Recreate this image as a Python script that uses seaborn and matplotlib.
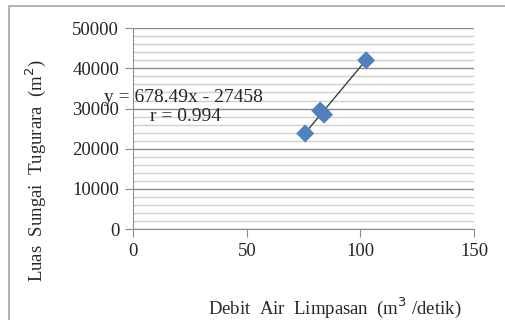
import numpy as np
import pandas as pd
import matplotlib.pyplot as plt
from matplotlib.patches import Rectangle
from matplotlib.ticker import MultipleLocator
import seaborn as sns

# Data
debit = [75.7, 82.3, 84.0, 102.5]
luas = [23800, 29500, 28500, 42000]
slope = 678.49
intercept = -27458
r_value = 0.994

df = pd.DataFrame({"debit": debit, "luas": luas})
trend_x = np.array([min(debit), max(debit)])
trend = pd.DataFrame({"debit": trend_x, "luas": slope * trend_x + intercept})

sns.set_style("white")
plt.rcParams['font.family'] = ['Liberation Serif', 'DejaVu Serif']

fig = plt.figure(figsize=(5.06, 3.2), dpi=100)
ax = fig.add_axes([0.263, 0.284, 0.674, 0.628])

# outer chart border
fig.patches.append(Rectangle((9 / 506, -0.05), 1.05, 1 - 6 / 320 + 0.05, transform=fig.transFigure,
                             fill=False, edgecolor="#a6a6a6", linewidth=1.2))

sns.lineplot(data=trend, x="debit", y="luas", ax=ax, color="#404040", linewidth=1, zorder=3)
sns.scatterplot(data=df, x="debit", y="luas", ax=ax, marker="D", s=85, color="#4f81bd",
                edgecolor="none", zorder=4)

ax.set_xlim(0, 150)
ax.set_ylim(0, 50000)
ax.xaxis.set_major_locator(MultipleLocator(50))
ax.yaxis.set_major_locator(MultipleLocator(10000))
ax.yaxis.set_minor_locator(MultipleLocator(2000))
ax.grid(which="major", axis="y", color="#8c8c8c", linewidth=1)
ax.grid(which="minor", axis="y", color="#d0d0d0", linewidth=1)
ax.set_axisbelow(True)

for s in ["top", "right"]:
    ax.spines[s].set_visible(False)
for s in ["left", "bottom"]:
    ax.spines[s].set_color("#8c8c8c")
ax.tick_params(axis="both", which="major", direction="out", length=6, color="#8c8c8c",
               labelsize=13.5, pad=4, left=True, bottom=True)
ax.tick_params(axis="y", which="minor", left=False)

ax.set_xlabel("Debit  Air  Limpasan  (m$^3$ /detik)", fontsize=13.5)
ax.set_ylabel("Luas  Sungai  Tugurara  (m$^2$)", fontsize=13.5)
ax.xaxis.set_label_coords(0.59, -0.33)
ax.yaxis.set_label_coords(-0.25, 0.29)

ax.text(-12.8, 32800, "y = 678.49x - 27458", fontsize=14, ha="left", va="center")
ax.text(7.5, 27900, f"r = {r_value}", fontsize=14, ha="left", va="center")

fig.savefig("out.png", dpi=100)
